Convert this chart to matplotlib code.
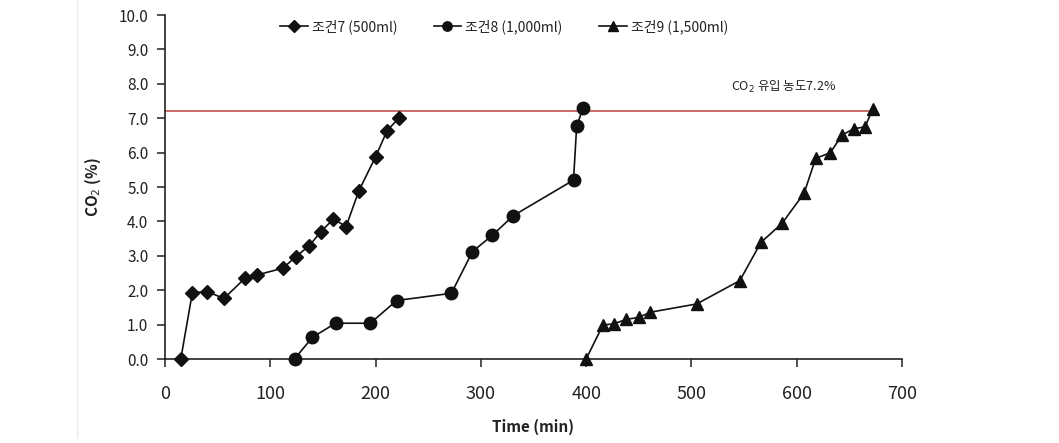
import matplotlib.pyplot as plt
from matplotlib.lines import Line2D

plt.rcParams['font.family'] = ['Noto Sans CJK KR', 'DejaVu Sans']

# 조건7 (500ml)
t7 = [15, 26, 40, 56, 76, 87, 112, 124, 137, 148, 160, 172, 184, 200, 211, 222]
co2_7 = [0.0, 1.93, 1.96, 1.76, 2.35, 2.44, 2.64, 2.97, 3.29, 3.70, 4.07, 3.85, 4.88, 5.88, 6.64, 7.00]

# 조건8 (1,000ml)
t8 = [123, 140, 162, 195, 220, 272, 292, 311, 331, 388, 391, 397]
co2_8 = [0.0, 0.63, 1.04, 1.04, 1.70, 1.91, 3.12, 3.60, 4.17, 5.20, 6.77, 7.29]

# 조건9 (1,500ml)
t9 = [400, 416, 426, 438, 450, 461, 505, 546, 566, 586, 607, 618, 632, 643, 654, 665, 672]
co2_9 = [0.0, 0.99, 1.02, 1.15, 1.21, 1.36, 1.60, 2.28, 3.39, 3.94, 4.82, 5.83, 6.00, 6.51, 6.69, 6.75, 7.26]

labels = ["조건7 (500ml)", "조건8 (1,000ml)", "조건9 (1,500ml)"]
inlet_conc = 7.2

fig = plt.figure(figsize=(10.59, 4.43), dpi=100)
ax = fig.add_axes([165 / 1059, 84 / 443, 737 / 1059, 344 / 443])

# faint chart-area border
fig.add_artist(Line2D([77 / 1059, 77 / 1059], [6 / 443, 1.0], color='#ececec', lw=1))

txt = '#222222'
ax.plot(t7, co2_7, color='#111111', lw=1.2, marker='D', ms=7.5, clip_on=False, zorder=3, label=labels[0])
ax.plot(t8, co2_8, color='#111111', lw=1.2, marker='o', ms=9, clip_on=False, zorder=3, label=labels[1])
ax.plot(t9, co2_9, color='#111111', lw=1.2, marker='^', ms=9, clip_on=False, zorder=3, label=labels[2])

ax.hlines(inlet_conc, 0, t9[-1], color='#b8443f', lw=1.1, zorder=2)
ax.text(538, 7.9, "CO$_2$ 유입 농도7.2%", fontsize=9, color=txt, va='center')

ax.set_xlim(0, 700)
ax.set_ylim(0, 10)
ax.set_xticks(range(0, 701, 100))
ax.set_yticks([i for i in range(0, 11)])
ax.set_yticklabels([f"{i:.1f}" for i in range(0, 11)])

for s in ['top', 'right']:
    ax.spines[s].set_visible(False)
ax.spines['left'].set_color('#222222')
ax.spines['bottom'].set_color('#222222')
ax.spines['left'].set_linewidth(1.2)
ax.spines['bottom'].set_linewidth(1.2)

ax.tick_params(axis='x', direction='out', length=6, width=1.1, labelsize=13, pad=13, colors=txt)
ax.tick_params(axis='y', direction='out', length=6, width=1.1, labelsize=11, pad=6, colors=txt)

ax.set_xlabel("Time (min)", fontsize=11, fontweight='bold', color=txt, labelpad=11)
ax.set_ylabel("CO$_2$ (%)", fontsize=11, fontweight='bold', color=txt, labelpad=11)

ax.legend(loc='upper center', bbox_to_anchor=(0.46, 1.025), ncol=3, frameon=False,
          fontsize=10, handlelength=2.0, columnspacing=2.6, handletextpad=0.3,
          markerscale=0.75, labelcolor=txt)

fig.savefig("out.png", dpi=100)
